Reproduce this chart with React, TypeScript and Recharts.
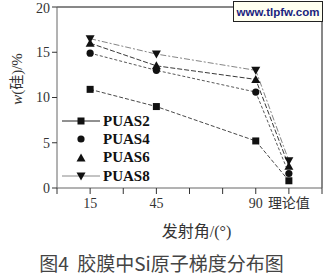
import React from 'react';
import { LineChart, Line, XAxis, YAxis, ReferenceLine } from 'recharts';

// emission angle (deg); 105 slot holds the theoretical value
const angles = [15, 45, 90, 105];
const tickLabels: Record<number, string> = { 15: '15', 45: '45', 90: '90', 105: '理论值' };
const puas2 = [10.9, 9.0, 5.2, 0.8];
const puas4 = [14.9, 13.0, 10.6, 1.6];
const puas6 = [16.0, 13.5, 12.0, 2.4];
const puas8 = [16.5, 14.8, 13.0, 3.0];

const data = angles.map((a, i) => ({
  angle: a,
  PUAS2: puas2[i],
  PUAS4: puas4[i],
  PUAS6: puas6[i],
  PUAS8: puas8[i],
}));

const MARK = '#111';

const drawMarker = (shape: string, cx: number, cy: number, key?: any) => {
  if (shape === 'square') return <rect key={key} x={cx - 3.5} y={cy - 3.5} width={7} height={7} fill={MARK} />;
  if (shape === 'circle') return <circle key={key} cx={cx} cy={cy} r={3.6} fill={MARK} />;
  if (shape === 'up') return <path key={key} d={`M${cx},${cy - 4.5}L${cx + 4.5},${cy + 3.5}L${cx - 4.5},${cy + 3.5}Z`} fill={MARK} />;
  return <path key={key} d={`M${cx},${cy + 4.5}L${cx + 4.5},${cy - 3.5}L${cx - 4.5},${cy - 3.5}Z`} fill={MARK} />;
};

const series = [
  { key: 'PUAS2', shape: 'square', stroke: '#333', dash: '4 2', legendLine: '#222' },
  { key: 'PUAS4', shape: 'circle', stroke: '#444', dash: '3 2', legendLine: 'none' },
  { key: 'PUAS6', shape: 'up', stroke: '#222', dash: '5 2', legendLine: 'none' },
  { key: 'PUAS8', shape: 'down', stroke: '#777', dash: '6 2 2 2', legendLine: '#888' },
];

const LegendBox = () => (
  <div style={{ position: 'absolute', left: 60, top: 112 }}>
    {series.map((s) => (
      <div key={s.key} style={{ display: 'flex', alignItems: 'center', height: 18.3 }}>
        <svg width={42} height={18}>
          {s.legendLine !== 'none' && <line x1={2} x2={40} y1={9} y2={9} stroke={s.legendLine} strokeWidth={1} />}
          {drawMarker(s.shape, 21, 9)}
        </svg>
        <span style={{ fontFamily: '"Liberation Serif", serif', fontSize: 15, fontWeight: 600, color: '#111', marginLeft: 1 }}>{s.key}</span>
      </div>
    ))}
  </div>
);

export default function App() {
  return (
    <div style={{ position: 'absolute', left: 0, top: 0, width: 327, height: 279, background: '#fff' }}>
      <LineChart width={327} height={279} data={data} margin={{ top: 7, right: 5, left: 7, bottom: 61 }}>
        <XAxis
          type="number"
          dataKey="angle"
          domain={[0, 120]}
          ticks={[0, 15, 30, 45, 60, 75, 90, 105, 120]}
          tickFormatter={(v: number) => tickLabels[v] ?? ''}
          stroke="#666"
          tickLine={{ stroke: '#333' }}
          tickSize={6}
          height={30}
          tick={{ fill: '#333', fontSize: 14, fontFamily: '"Liberation Serif", "Noto Sans CJK SC", serif', dy: 2 }}
        />
        <YAxis
          type="number"
          domain={[0, 20]}
          ticks={[0, 5, 10, 15, 20]}
          width={50}
          stroke="#666"
          tickLine={{ stroke: '#333' }}
          tickSize={5}
          tick={{ fill: '#333', fontSize: 14, fontFamily: '"Liberation Serif", serif' }}
        />
        <ReferenceLine y={20} stroke="#111" strokeWidth={1} />
        <ReferenceLine x={120} stroke="#111" strokeWidth={1} />
        {series.map((s) => (
          <Line
            key={s.key}
            dataKey={s.key}
            name={s.key}
            stroke={s.stroke}
            strokeWidth={0.9}
            strokeDasharray={s.dash}
            isAnimationActive={false}
            dot={(p: any) => drawMarker(s.shape, p.cx, p.cy, `${s.key}-${p.index}`)}
            activeDot={false}
          />
        ))}
      </LineChart>
      <LegendBox />
      <div
        style={{
          position: 'absolute', left: 233, top: 1, width: 88, height: 19,
          border: '1px solid #222', background: '#fffff0',
          fontFamily: 'Arial, "Liberation Sans", sans-serif', fontWeight: 'bold', fontSize: 11.5,
          color: '#1a237e', display: 'flex', alignItems: 'center', justifyContent: 'center',
        }}
      >
        www.tlpfw.com
      </div>
      <div style={{ position: 'absolute', left: 15, top: 79, width: 0, height: 0 }}>
        <div
          style={{
            position: 'absolute', left: 0, top: 0, transform: 'translate(-50%,-50%) rotate(-90deg)',
            fontFamily: '"Liberation Serif", "Noto Sans CJK SC", serif', fontSize: 15, color: '#333', whiteSpace: 'nowrap',
          }}
        >
          <i>w</i>(硅)/%
        </div>
      </div>
      <div
        style={{
          position: 'absolute', left: 64, width: 265, top: 218, textAlign: 'center',
          fontFamily: '"Liberation Serif", "Noto Sans CJK SC", serif', fontSize: 16, color: '#333',
        }}
      >
        发射角/(°)
      </div>
      <div
        style={{
          position: 'absolute', left: 0, width: 323, top: 249, textAlign: 'center',
          fontFamily: '"Noto Sans CJK SC", sans-serif', fontSize: 19, color: '#444',
        }}
      >
        图4&nbsp;&nbsp;胶膜中Si原子梯度分布图
      </div>
    </div>
  );
}
